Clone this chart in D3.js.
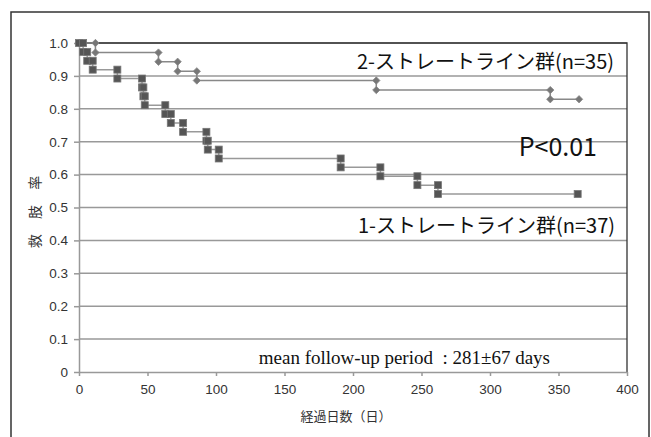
<!DOCTYPE html>
<html>
<head>
<meta charset="utf-8">
<script src="https://cdn.jsdelivr.net/npm/d3@7"></script>
<style>
  body { margin: 0; background: #fff; }
  svg { display: block; }
</style>
</head>
<body>
<div id="chart"></div>
<script>
// step corners of the two Kaplan-Meier style curves (days, survival)
const g1Days = [0, 3, 3, 6, 6, 10, 10, 28, 28, 46, 46, 47, 47, 48, 48, 63, 63, 67, 67, 76, 76, 93, 93, 94, 94, 102, 102, 191, 191, 220, 220, 247, 247, 262, 262, 364];
const g1Surv = [1.0, 1.0, 0.973, 0.973, 0.946, 0.946, 0.919, 0.919, 0.892, 0.892, 0.865, 0.865, 0.838, 0.838, 0.811, 0.811, 0.784, 0.784, 0.757, 0.757, 0.730, 0.730, 0.703, 0.703, 0.676, 0.676, 0.649, 0.649, 0.622, 0.622, 0.595, 0.595, 0.568, 0.568, 0.541, 0.541];
const g2Days = [0, 12, 12, 58, 58, 72, 72, 86, 86, 217, 217, 344, 344, 365];
const g2Surv = [1.0, 1.0, 0.971, 0.971, 0.943, 0.943, 0.914, 0.914, 0.886, 0.886, 0.857, 0.857, 0.829, 0.829];

const xTicks = [0, 50, 100, 150, 200, 250, 300, 350, 400];
const yTicks = [0, 0.1, 0.2, 0.3, 0.4, 0.5, 0.6, 0.7, 0.8, 0.9, 1.0];
const yTickLabels = ["0", "0.1", "0.2", "0.3", "0.4", "0.5", "0.6", "0.7", "0.8", "0.9", "1.0"];

const g1Label = "1-ストレートライン群(n=37)";
const g2Label = "2-ストレートライン群(n=35)";
const pLabel = "P<0.01";
const noteLabel = "mean follow-up period  : 281±67 days";
const xTitle = "経過日数（日）";
const yTitle = "救 肢 率";

const W = 651, H = 437;
const svg = d3.select("#chart").append("svg")
    .attr("width", W)
    .attr("height", H);

const x = d3.scaleLinear().domain([0, 400]).range([79, 627]);
const y = d3.scaleLinear().domain([0, 1]).range([372, 43]);

// outer frame
svg.append("rect")
    .attr("x", 11).attr("y", 12)
    .attr("width", 638).attr("height", 440)
    .attr("fill", "none")
    .attr("stroke", "#333")
    .attr("stroke-width", 1.5);

// gridlines
svg.append("g").selectAll("line")
    .data(yTicks.slice(1))
    .enter().append("line")
    .attr("x1", x(0)).attr("x2", x(400))
    .attr("y1", d => y(d)).attr("y2", d => y(d))
    .attr("stroke", "#999")
    .attr("stroke-width", 1.5);

// plot border (top + right)
svg.append("path")
    .attr("d", `M${x(0)},${y(1)}H${x(400)}V${y(0)}`)
    .attr("fill", "none")
    .attr("stroke", "#333")
    .attr("stroke-width", 1.3);

// y axis
const yAxis = d3.axisLeft(y)
    .tickValues(yTicks)
    .tickFormat((d, i) => yTickLabels[i])
    .tickSize(5)
    .tickSizeOuter(0)
    .tickPadding(6);
const yg = svg.append("g")
    .attr("transform", `translate(${x(0)},0)`)
    .call(yAxis);

// x axis
const xAxis = d3.axisBottom(x)
    .tickValues(xTicks)
    .tickSize(4)
    .tickSizeOuter(0)
    .tickPadding(8);
const xg = svg.append("g")
    .attr("transform", `translate(0,${y(0)})`)
    .call(xAxis);

[yg, xg].forEach(g => {
    g.select(".domain").attr("stroke", "#999").attr("stroke-width", 1.5);
    g.selectAll(".tick line").attr("stroke", "#999").attr("stroke-width", 1.5);
    g.selectAll("text")
        .attr("fill", "#333")
        .style("font-family", "'Liberation Sans', Arial, sans-serif")
        .style("font-size", "13.5px");
});

// curves
const g1 = g1Days.map((d, i) => ({d: d, s: g1Surv[i]}));
const g2 = g2Days.map((d, i) => ({d: d, s: g2Surv[i]}));
const line = d3.line().x(p => x(p.d)).y(p => y(p.s));

svg.append("path").datum(g2)
    .attr("d", line)
    .attr("fill", "none")
    .attr("stroke", "#888")
    .attr("stroke-width", 1.5);

svg.append("path").datum(g1)
    .attr("d", line)
    .attr("fill", "none")
    .attr("stroke", "#999")
    .attr("stroke-width", 1.5);

svg.append("g").selectAll("path")
    .data(g2)
    .enter().append("path")
    .attr("d", d3.symbol().type(d3.symbolDiamond2).size(34))
    .attr("transform", p => `translate(${x(p.d)},${y(p.s)})`)
    .attr("fill", "#777")
    .attr("stroke", "#888")
    .attr("stroke-width", 0.8);

svg.append("g").selectAll("rect")
    .data(g1)
    .enter().append("rect")
    .attr("x", p => x(p.d) - 3.5)
    .attr("y", p => y(p.s) - 3.5)
    .attr("width", 7).attr("height", 7)
    .attr("fill", "#555")
    .attr("stroke", "#777")
    .attr("stroke-width", 0.8);

// labels
const jp = "'Noto Sans CJK JP', 'Noto Sans', sans-serif";

svg.append("text")
    .attr("x", 614).attr("y", 60)
    .attr("text-anchor", "end")
    .attr("dominant-baseline", "central")
    .style("font-family", jp)
    .style("font-size", "20px")
    .attr("fill", "#111")
    .text(g2Label);

svg.append("text")
    .attr("x", 615).attr("y", 224)
    .attr("text-anchor", "end")
    .attr("dominant-baseline", "central")
    .style("font-family", jp)
    .style("font-size", "20px")
    .attr("fill", "#111")
    .text(g1Label);

svg.append("text")
    .attr("x", 597).attr("y", 145)
    .attr("text-anchor", "end")
    .attr("dominant-baseline", "central")
    .style("font-family", jp)
    .style("font-size", "25px")
    .attr("fill", "#111")
    .text(pLabel);

svg.append("text")
    .attr("x", 550).attr("y", 357)
    .attr("text-anchor", "end")
    .attr("dominant-baseline", "central")
    .attr("xml:space", "preserve")
    .style("white-space", "pre")
    .style("font-family", "'Liberation Serif', 'Times New Roman', serif")
    .style("font-size", "19px")
    .attr("fill", "#111")
    .text(noteLabel);

svg.append("text")
    .attr("x", 346).attr("y", 415)
    .attr("text-anchor", "middle")
    .attr("dominant-baseline", "central")
    .style("font-family", jp)
    .style("font-size", "13px")
    .attr("fill", "#333")
    .text(xTitle);

svg.append("text")
    .attr("transform", "translate(34,209) rotate(-90)")
    .attr("text-anchor", "middle")
    .attr("dominant-baseline", "central")
    .attr("xml:space", "preserve")
    .style("white-space", "pre")
    .style("letter-spacing", "6px")
    .style("font-family", jp)
    .style("font-size", "14px")
    .attr("fill", "#333")
    .text(yTitle);
</script>
</body>
</html>
